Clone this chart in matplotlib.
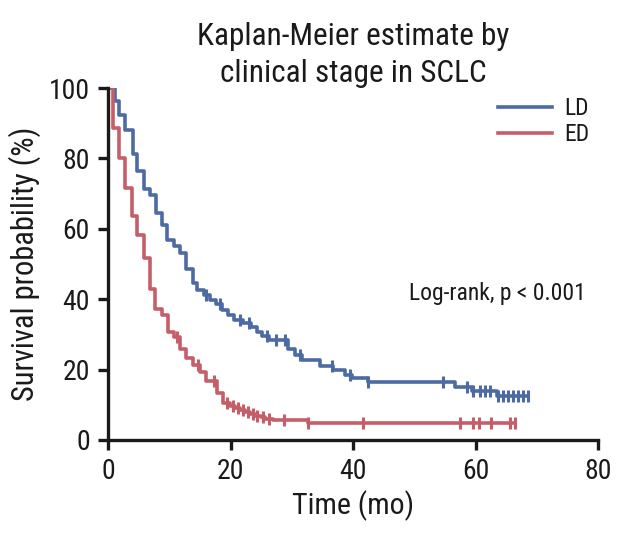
import numpy as np
import matplotlib.pyplot as plt

# Step curves (time in months, survival in %).
ld_time = [0, 1.1, 1.8, 2.8, 4.0, 4.8, 5.8, 6.9, 7.8, 8.8, 9.7, 10.7, 11.8, 12.8, 13.8,
           14.6, 15.6, 16.6, 17.6, 18.6, 19.6, 20.5, 22.0, 23.4, 24.3, 25.2, 26.3, 29.4,
           30.5, 31.6, 34.6, 36.8, 38.7, 39.8, 42.5, 56.7, 59.4, 63.5, 68.6]
ld_surv = [100, 96.4, 92.3, 88.0, 81.4, 76.5, 71.2, 69.6, 64.6, 61.1, 56.8, 55.2, 53.0, 48.5,
           44.5, 42.6, 41.2, 39.8, 38.6, 37.0, 35.5, 34.2, 33.3, 32.0, 30.6, 29.5, 28.4, 25.8,
           24.1, 22.7, 21.0, 19.9, 18.5, 17.5, 16.6, 15.0, 14.0, 12.5, 12.5]
ld_censor = [16.0, 18.3, 21.5, 23.0, 26.0, 27.5, 28.9, 31.3, 36.5, 39.5, 42.5, 54.7, 58.6,
             59.6, 60.7, 61.6, 62.4, 63.7, 64.5, 65.3, 66.2, 67.0, 67.8, 68.6]

ed_time = [0, 0.8, 1.8, 2.8, 3.9, 4.8, 5.8, 6.9, 7.7, 8.8, 9.8, 10.7, 11.8, 12.7, 13.8, 15.0,
           16.0, 17.8, 18.8, 19.9, 20.8, 21.6, 22.4, 23.2, 24.0, 24.9, 25.7, 27.0, 32.7, 66.4]
ed_surv = [100, 88.8, 80.2, 71.5, 63.6, 58.2, 51.6, 42.8, 37.1, 35.5, 30.8, 29.2, 25.9, 23.2,
           21.3, 19.4, 16.9, 13.4, 10.4, 9.7, 9.1, 8.5, 7.9, 7.4, 6.9, 6.4, 6.0, 5.7, 4.7, 4.7]
ed_censor = [11.2, 14.7, 17.3, 19.4, 20.4, 21.2, 22.0, 22.8, 23.6, 24.4, 25.3, 26.3, 28.8,
             32.7, 41.7, 57.5, 59.6, 60.5, 62.6, 65.6, 66.4]

plt.rcParams['font.family'] = ['Roboto Condensed', 'DejaVu Sans']

blue = "#4C6AA3"
red = "#C65E69"
ink = "#1a1a1a"

fig = plt.figure(figsize=(6.23, 5.38), dpi=100)
ax = fig.add_axes([0.1734, 0.1822, 0.7865, 0.654])


def km(t, s, cens, color, label):
    ax.step(t, s, where='post', color=color, linewidth=2.6, label=label)
    idx = np.searchsorted(t, cens, side='right') - 1
    ax.plot(cens, np.array(s)[idx], linestyle='none', marker='|', markersize=9,
            markeredgewidth=2.2, color=color)


km(ld_time, ld_surv, ld_censor, blue, "LD")
km(ed_time, ed_surv, ed_censor, red, "ED")

ax.set_xlim(0, 80)
ax.set_ylim(0, 100)
ax.set_xticks([0, 20, 40, 60, 80])
ax.set_yticks([0, 20, 40, 60, 80, 100])
for side in ['top', 'right']:
    ax.spines[side].set_visible(False)
for side in ['left', 'bottom']:
    ax.spines[side].set_linewidth(2.4)
    ax.spines[side].set_color(ink)
ax.tick_params(width=2.4, length=7, labelsize=20, color=ink, labelcolor=ink, pad=6)
ax.set_xlabel("Time (mo)", fontsize=21.5, labelpad=4, color=ink)
ax.set_ylabel("Survival probability (%)", fontsize=22, labelpad=6, color=ink)
ax.set_title("Kaplan-Meier estimate by\nclinical stage in SCLC", fontsize=22.5, pad=3,
             linespacing=1.35, color=ink)

ax.text(63.5, 41.5, "Log-rank, p < 0.001", fontsize=17, ha='center', va='center', color=ink)
ax.legend(frameon=False, loc='upper left', bbox_to_anchor=(0.796, 0.975), fontsize=17,
          borderpad=0, borderaxespad=0, handlelength=2.3, handletextpad=0.5,
          labelspacing=0.15, labelcolor=ink)

fig.savefig("out.png", dpi=100)
